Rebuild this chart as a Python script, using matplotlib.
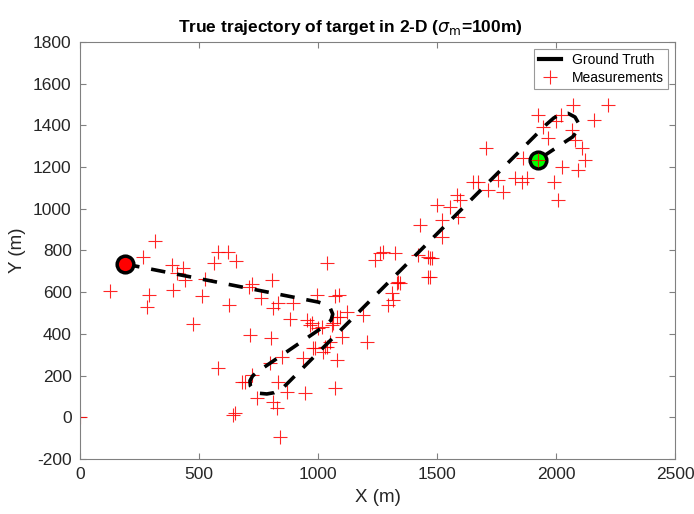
import matplotlib.pyplot as plt
import numpy as np

plt.rcParams['font.family'] = ['Liberation Sans', 'DejaVu Sans']
plt.rcParams['mathtext.fontset'] = 'dejavusans'
plt.rcParams['axes.unicode_minus'] = False

# ground truth path (m)
truth_x = [190, 1000, 1030, 1052, 1062, 1055, 1030, 744, 725, 714, 716, 730, 755, 785,
           815, 840, 856, 1960, 1990, 2020, 2050, 2080, 2095, 2090, 2070, 1923]
truth_y = [735, 553, 542, 522, 495, 466, 440, 217, 198, 175, 150, 128, 115, 112,
           118, 132, 145, 1405, 1435, 1455, 1458, 1440, 1410, 1375, 1345, 1234]

# noisy position measurements (m)
meas_x = [0, 126, 265, 315, 281, 290, 387, 391, 433, 441, 408, 475, 513, 525, 563, 580,
          622, 655, 626, 714, 710, 723, 761, 807, 811, 832, 895, 882, 803, 954, 966, 996,
          1038, 1071, 1088, 1080, 1122, 1000, 1038, 1050, 979, 1101, 1080, 1071, 937, 849,
          798, 723, 681, 580, 744, 811, 832, 870, 945, 651, 643, 693, 828, 840, 1021, 1206,
          975, 1059, 1092, 1189, 1017, 1063, 1029, 987, 1239, 1273, 1260, 1324, 1462, 1479,
          1462, 1332, 1311, 1315, 1294, 1336, 2071, 2218, 1924, 2021, 1945, 2160, 2067, 1966,
          2080, 2109, 2122, 2092, 2025, 2008, 1706, 1861, 1920, 1651, 1672, 1714, 1777, 1756,
          1828, 1857, 1878, 1584, 1597, 1555, 1500, 1588, 1521, 1429, 1521, 1420, 1471, 1471,
          1345, 2000, 1990]
meas_y = [0, 606, 769, 846, 529, 587, 730, 611, 716, 658, 692, 447, 582, 663, 740, 793,
          793, 750, 539, 395, 625, 639, 572, 658, 524, 548, 548, 471, 380, 467, 443, 587,
          740, 582, 587, 481, 505, 428, 337, 361, 332, 385, 275, 141, 284, 289,
          260, 203, 169, 236, 93, 73, 169, 121, 116, 21, 11, 169, 45, -94, 313, 361,
          452, 443, 481, 491, 433, 452, 337, 332, 754, 793, 788, 788, 769, 764,
          673, 644, 596, 563, 539, 649, 1498, 1498, 1450, 1450, 1392, 1426, 1378, 1340,
          1330, 1292, 1234, 1186, 1200, 1042, 1292, 1244, 1240, 1128, 1128, 1090, 1080, 1138,
          1148, 1128, 1148, 1066, 1042, 1009, 1018, 960, 946, 922, 865, 778, 764, 673,
          644, 1420, 1130]

fig = plt.figure(figsize=(6.94, 5.14), dpi=100)
ax = fig.add_axes([0.1153, 0.107, 0.8573, 0.8113])

ax.plot(truth_x, truth_y, color='black', lw=2.6, linestyle=(0, (4, 3.3)),
        label='Ground Truth', zorder=3)
ax.plot(meas_x, meas_y, '+', color='red', ms=10, mew=0.8, alpha=0.85,
        label='Measurements', zorder=2)
ax.plot(truth_x[0], truth_y[0], 'o', ms=12, mfc='red', mec='black', mew=2.5, zorder=4)
ax.plot(truth_x[-1], truth_y[-1], 'o', ms=12, mfc='#00ff00', mec='black', mew=2.5, zorder=4)
ax.plot(truth_x[-1], truth_y[-1], '+', color='red', ms=10, mew=0.8, alpha=0.85, zorder=5)

ax.set_xlim(0, 2500)
ax.set_ylim(-200, 1800)
ax.set_xticks(np.arange(0, 2501, 500))
ax.set_yticks(np.arange(-200, 1801, 200))

txt = '#262626'
ax.tick_params(direction='in', length=4, width=0.8, colors='#808080',
               labelcolor=txt, labelsize=12.5, top=True, right=True, pad=6)
for s in ax.spines.values():
    s.set_color('#808080')
    s.set_linewidth(0.8)

ax.set_xlabel('X (m)', fontsize=13.5, color=txt, labelpad=5)
ax.set_ylabel('Y (m)', fontsize=13.5, color=txt, labelpad=5)
ax.set_title(r'True trajectory of target in 2-D ($\sigma_{\rm m}$=100m)',
             fontsize=12.5, fontweight='bold', color='black', pad=7, x=0.454)

leg = ax.legend(loc='upper right', fontsize=10, frameon=True, fancybox=False,
                borderaxespad=0.5, handlelength=1.6, borderpad=0.3, labelspacing=0.25,
                handletextpad=0.8)
leg.get_frame().set_edgecolor('#808080')
leg.get_frame().set_linewidth(0.8)
leg.legend_handles[0].set_linestyle('-')
leg.legend_handles[0].set_linewidth(3)

fig.savefig('out.png', dpi=100)
